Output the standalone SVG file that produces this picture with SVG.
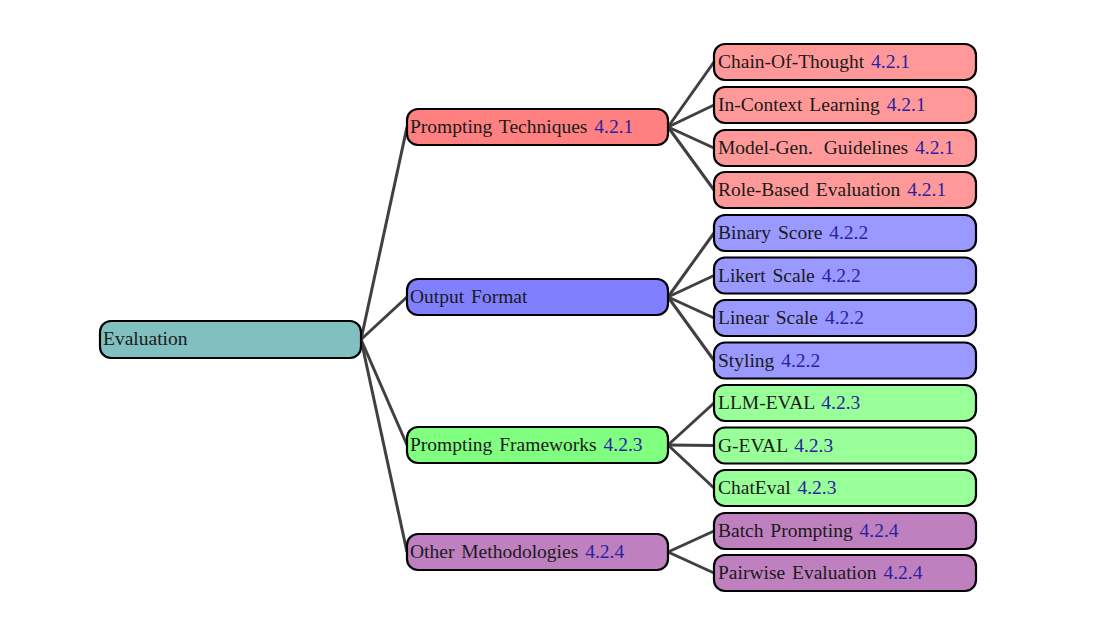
<svg xmlns="http://www.w3.org/2000/svg" width="1108" height="618" viewBox="0 0 1108 618">
<style>
.n rect{stroke:#000;stroke-width:2.2}
.n text{font-family:"Liberation Serif","Times New Roman",serif;font-size:19.5px;word-spacing:2px;fill:#1a1a1a}
.s{fill:#2a22a0}
.c line{stroke:#404040;stroke-width:3}
.r{fill:#80C0C0}.p1{fill:#FF8080}.p2{fill:#FF9999}.o1{fill:#8080FF}.o2{fill:#9999FF}.g1{fill:#80FF80}.g2{fill:#99FF99}.m1{fill:#BF80BF}.m2{fill:#BF80BF}
</style>
<rect width="1108" height="618" fill="#fff"/>
<g class="c" id="connectors">
<line x1="361" y1="339.5" x2="407" y2="127"/>
<line x1="361" y1="339.5" x2="407" y2="297"/>
<line x1="361" y1="339.5" x2="407" y2="445"/>
<line x1="361" y1="339.5" x2="407" y2="552"/>
<line x1="668" y1="127" x2="714" y2="62"/>
<line x1="668" y1="127" x2="714" y2="105"/>
<line x1="668" y1="127" x2="714" y2="148"/>
<line x1="668" y1="127" x2="714" y2="190"/>
<line x1="668" y1="297" x2="714" y2="233"/>
<line x1="668" y1="297" x2="714" y2="275.5"/>
<line x1="668" y1="297" x2="714" y2="318"/>
<line x1="668" y1="297" x2="714" y2="360.5"/>
<line x1="668" y1="445" x2="714" y2="403"/>
<line x1="668" y1="445" x2="714" y2="445.5"/>
<line x1="668" y1="445" x2="714" y2="488"/>
<line x1="668" y1="552" x2="714" y2="531"/>
<line x1="668" y1="552" x2="714" y2="573"/>
</g>
<g class="n" id="evaluation"><rect class="r" x="100" y="321" width="261" height="37" rx="11"/><text x="103" y="345">Evaluation</text></g>
<g class="n" id="prompting-techniques"><rect class="p1" x="407" y="109" width="261" height="36" rx="11"/><text x="410" y="133">Prompting Techniques <tspan class="s">4.2.1</tspan></text></g>
<g class="n" id="output-format"><rect class="o1" x="407" y="279" width="261" height="36" rx="11"/><text x="410" y="303">Output Format</text></g>
<g class="n" id="prompting-frameworks"><rect class="g1" x="407" y="427" width="261" height="36" rx="11"/><text x="410" y="451">Prompting Frameworks <tspan class="s">4.2.3</tspan></text></g>
<g class="n" id="other-methodologies"><rect class="m1" x="407" y="534" width="261" height="36" rx="11"/><text x="410" y="558">Other Methodologies <tspan class="s">4.2.4</tspan></text></g>
<g class="n" id="cot"><rect class="p2" x="714" y="44" width="262" height="36" rx="11"/><text x="718" y="68">Chain-Of-Thought <tspan class="s">4.2.1</tspan></text></g>
<g class="n" id="icl"><rect class="p2" x="714" y="87" width="262" height="36" rx="11"/><text x="718" y="111">In-Context Learning <tspan class="s">4.2.1</tspan></text></g>
<g class="n" id="mgg"><rect class="p2" x="714" y="130" width="262" height="36" rx="11"/><text x="718" y="154">Model-Gen. <tspan dx="4">Guidelines</tspan> <tspan class="s">4.2.1</tspan></text></g>
<g class="n" id="rbe"><rect class="p2" x="714" y="172" width="262" height="36" rx="11"/><text x="718" y="196">Role-Based Evaluation <tspan class="s">4.2.1</tspan></text></g>
<g class="n" id="binary"><rect class="o2" x="714" y="215" width="262" height="36" rx="11"/><text x="718" y="239">Binary Score <tspan class="s">4.2.2</tspan></text></g>
<g class="n" id="likert"><rect class="o2" x="714" y="257.5" width="262" height="36" rx="11"/><text x="718" y="281.5">Likert Scale <tspan class="s">4.2.2</tspan></text></g>
<g class="n" id="linear"><rect class="o2" x="714" y="300" width="262" height="36" rx="11"/><text x="718" y="324">Linear Scale <tspan class="s">4.2.2</tspan></text></g>
<g class="n" id="styling"><rect class="o2" x="714" y="342.5" width="262" height="36" rx="11"/><text x="718" y="366.5">Styling <tspan class="s">4.2.2</tspan></text></g>
<g class="n" id="llm-eval"><rect class="g2" x="714" y="385" width="262" height="36" rx="11"/><text x="718" y="409">LLM-EVAL <tspan class="s">4.2.3</tspan></text></g>
<g class="n" id="g-eval"><rect class="g2" x="714" y="427.5" width="262" height="36" rx="11"/><text x="718" y="451.5">G-EVAL <tspan class="s">4.2.3</tspan></text></g>
<g class="n" id="chateval"><rect class="g2" x="714" y="470" width="262" height="36" rx="11"/><text x="718" y="494">ChatEval <tspan class="s">4.2.3</tspan></text></g>
<g class="n" id="batch"><rect class="m2" x="714" y="513" width="262" height="36" rx="11"/><text x="718" y="537">Batch Prompting <tspan class="s">4.2.4</tspan></text></g>
<g class="n" id="pairwise"><rect class="m2" x="714" y="555" width="262" height="36" rx="11"/><text x="718" y="579">Pairwise Evaluation <tspan class="s">4.2.4</tspan></text></g>
</svg>
